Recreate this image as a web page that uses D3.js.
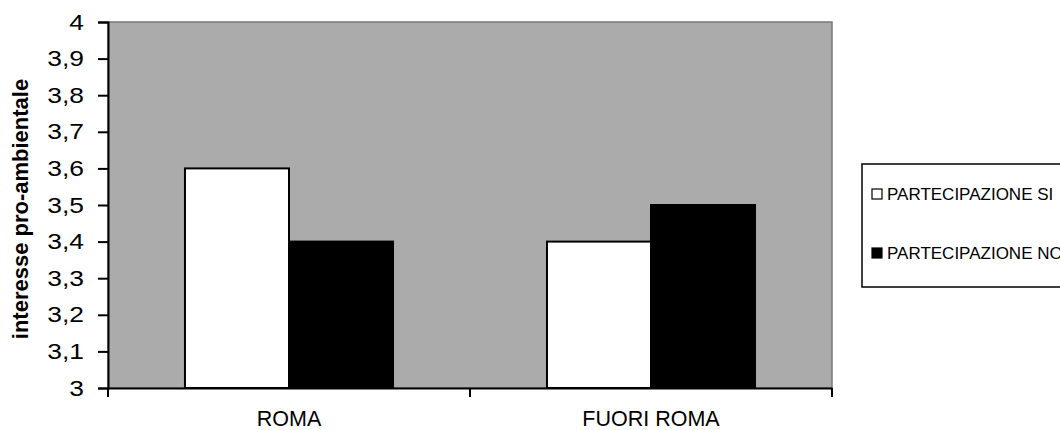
<!DOCTYPE html>
<html>
<head>
<meta charset="utf-8">
<script src="https://cdn.jsdelivr.net/npm/d3@7"></script>
<style>
html,body{margin:0;padding:0;background:#fff;}
svg{display:block;}
</style>
</head>
<body>
<svg id="chart" width="1060" height="430"></svg>
<script>
const categories = ["ROMA", "FUORI ROMA"];
const seriesNames = ["PARTECIPAZIONE SI", "PARTECIPAZIONE NO"];
const valuesSi = [3.6, 3.4];
const valuesNo = [3.4, 3.5];
const yTicks = [3, 3.1, 3.2, 3.3, 3.4, 3.5, 3.6, 3.7, 3.8, 3.9, 4];
const yTitle = "interesse pro-ambientale";

const seriesValues = [valuesSi, valuesNo];
const seriesFill = ["#ffffff", "#000000"];
const FONT = "'Liberation Sans', Arial, sans-serif";

const svg = d3.select("#chart");
const m = {left: 108, right: 832, top: 22, bottom: 388};

const x0 = d3.scaleBand().domain(categories).range([m.left, m.right]).paddingInner(0).paddingOuter(0);
const x1 = d3.scaleBand().domain(seriesNames).range([0, x0.bandwidth()]).paddingInner(0).paddingOuter(0.74);
const y = d3.scaleLinear().domain([3, 4]).range([m.bottom, m.top]);

// plot area
svg.append("rect")
  .attr("x", m.left).attr("y", m.top)
  .attr("width", m.right - m.left).attr("height", m.bottom - m.top)
  .attr("fill", "#ababab")
  .attr("stroke", "#7a7a7a").attr("stroke-width", 1.5);

// bars
seriesNames.forEach((s, si) => {
  svg.append("g").selectAll("rect")
    .data(categories.map((c, i) => ({c, v: seriesValues[si][i]})))
    .join("rect")
    .attr("x", d => x0(d.c) + x1(s))
    .attr("width", x1.bandwidth())
    .attr("y", d => y(d.v))
    .attr("height", d => y(3) - y(d.v))
    .attr("fill", seriesFill[si])
    .attr("stroke", "#000").attr("stroke-width", 2);
});

// y axis
const stretch = 1.2;
const yAxis = d3.axisLeft(y).tickValues(yTicks).tickSize(10).tickPadding(14)
  .tickFormat(d => d3.format(".1~f")(d).replace(".", ","));
const gy = svg.append("g").attr("transform", `translate(${m.left},0)`).call(yAxis);
gy.select(".domain").attr("stroke", "#000").attr("stroke-width", 2);
gy.selectAll(".tick line").attr("stroke", "#000").attr("stroke-width", 2);
gy.selectAll(".tick text").attr("font-family", FONT)
  .attr("font-size", 22).attr("fill", "#000")
  .attr("x", -24 / stretch)
  .attr("transform", `scale(${stretch},1)`);

// x axis
const gx = svg.append("g").attr("transform", `translate(0,${m.bottom})`)
  .call(d3.axisBottom(x0).tickSize(0).tickPadding(23));
gx.select(".domain").attr("stroke", "#000").attr("stroke-width", 2);
gx.selectAll(".tick text").attr("font-family", FONT)
  .attr("font-size", 21.5).attr("fill", "#000");
// boundary tick marks between categories
const boundaries = categories.map(c => x0(c)).concat([x0(categories[categories.length-1]) + x0.bandwidth()]);
svg.append("g").selectAll("line").data(boundaries).join("line")
  .attr("x1", d => d).attr("x2", d => d)
  .attr("y1", m.bottom).attr("y2", m.bottom + 9)
  .attr("stroke", "#000").attr("stroke-width", 2);

// y title
svg.append("text")
  .attr("transform", `translate(28,209) rotate(-90)`)
  .attr("text-anchor", "middle")
  .attr("font-family", FONT)
  .attr("font-weight", "bold").attr("font-size", 22)
  .text(yTitle);

// legend
const lg = svg.append("g");
lg.append("rect").attr("x", 862).attr("y", 164).attr("width", 240).attr("height", 123)
  .attr("fill", "#fff").attr("stroke", "#000").attr("stroke-width", 1.5);
seriesNames.forEach((s, i) => {
  const cy = 194 + i * 59;
  lg.append("rect").attr("x", 872).attr("y", cy - 5).attr("width", 10).attr("height", 10)
    .attr("fill", seriesFill[i]).attr("stroke", "#000").attr("stroke-width", 1.2);
  lg.append("text").attr("x", 887).attr("y", cy + 6)
    .attr("font-family", FONT)
    .attr("font-size", 17).attr("fill", "#000")
    .text(s);
});
</script>
</body>
</html>
